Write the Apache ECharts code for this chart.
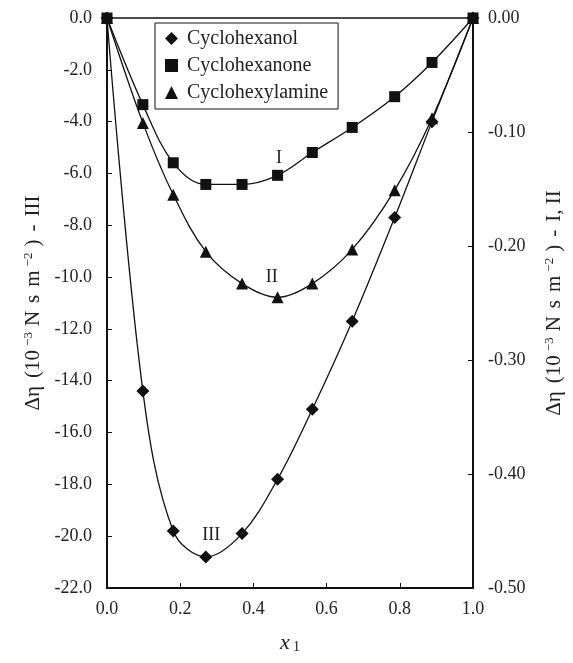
<!DOCTYPE html>
<html>
<head>
<meta charset="utf-8">
<script src="https://cdn.jsdelivr.net/npm/echarts@6/dist/echarts.min.js"></script>
<style>
  html, body { margin: 0; padding: 0; background: #fff; }
  #main { width: 573px; height: 663px; }
</style>
</head>
<body>
<div id="main"></div>
<script>
// mole fraction x1 (same for all three systems)
var xValues = [0, 0.098, 0.181, 0.270, 0.369, 0.466, 0.561, 0.670, 0.786, 0.888, 1.0];
// I - cyclohexanone (right axis)
var ketoneI = [0, -0.076, -0.127, -0.146, -0.146, -0.138, -0.118, -0.096, -0.069, -0.039, 0];
// II - cyclohexylamine (right axis)
var amineII = [0, -0.092, -0.155, -0.205, -0.233, -0.245, -0.233, -0.203, -0.151, -0.088, 0];
// III - cyclohexanol (left axis)
var alcoholIII = [0, -14.4, -19.8, -20.8, -19.9, -17.8, -15.1, -11.7, -7.7, -4.0, 0];

var seriesNames = ['Cyclohexanol', 'Cyclohexanone', 'Cyclohexylamine'];

function pairs(ys) {
  return xValues.map(function (x, i) { return [x, ys[i]]; });
}

var font = '"Liberation Serif", "Times New Roman", serif';
var chart = echarts.init(document.getElementById('main'));

// rotated axis titles, spaced out like the scanned figure
var nameRich = {
  a: { fontFamily: font, fontSize: 21, color: '#222', padding: [0, 4, 0, 4] },
  sup: { fontFamily: font, fontSize: 13, color: '#222', verticalAlign: 'top', padding: [0, 2, 10, 0] }
};
function axisTitle(tail) {
  return '{a|Δη}{a|(10}{sup|−3}{a|N}{a|s}{a|m}{sup|−2}{a|)}{a|-}{a|' + tail + '}';
}

function markText(txt, x, y) {
  return {
    symbol: 'circle',
    symbolSize: 0,
    label: { show: true, formatter: txt, fontFamily: font, fontSize: 18, color: '#222' },
    data: [{ coord: [x, y] }]
  };
}

var option = {
  animation: false,
  backgroundColor: '#fff',
  grid: {
    left: 107,
    right: 99,
    top: 18,
    bottom: 75,
    show: true,
    borderColor: '#111',
    borderWidth: 1.5
  },
  legend: {
    left: 155,
    top: 23,
    orient: 'vertical',
    itemWidth: 13,
    itemHeight: 13,
    itemGap: 6,
    padding: [5, 10, 6, 10],
    borderColor: '#111',
    borderWidth: 1,
    textStyle: { fontFamily: font, fontSize: 20, lineHeight: 21, color: '#222', padding: [0, 0, 0, 4] },
    data: [
      { name: seriesNames[0], icon: 'diamond' },
      { name: seriesNames[1], icon: 'rect' },
      { name: seriesNames[2], icon: 'triangle' }
    ]
  },
  xAxis: {
    type: 'value',
    min: 0,
    max: 1,
    interval: 0.2,
    name: '{i|x}{s|1}',
    nameLocation: 'middle',
    nameGap: 44,
    nameTextStyle: {
      rich: {
        i: { fontFamily: font, fontSize: 22, fontStyle: 'italic', color: '#222' },
        s: { fontFamily: font, fontSize: 14, color: '#222', verticalAlign: 'bottom', padding: [8, 0, 0, 3] }
      }
    },
    axisLine: { onZero: false, lineStyle: { color: '#111', width: 2 } },
    axisTick: { inside: true, length: 5, lineStyle: { color: '#111' } },
    axisLabel: {
      margin: 12,
      fontFamily: font, fontSize: 18, color: '#222',
      formatter: function (v) { return v.toFixed(1); }
    },
    splitLine: { show: false }
  },
  yAxis: [{
    type: 'value',
    position: 'left',
    min: -22,
    max: 0,
    interval: 2,
    name: axisTitle('III'),
    nameLocation: 'middle',
    nameRotate: 90,
    nameGap: 62,
    nameTextStyle: { rich: nameRich },
    axisLine: { show: true, onZero: false, lineStyle: { color: '#111', width: 2 } },
    axisTick: { show: true, inside: true, length: 5, lineStyle: { color: '#111' } },
    axisLabel: {
      margin: 15,
      fontFamily: font, fontSize: 18, color: '#222',
      formatter: function (v) { return v.toFixed(1); }
    },
    splitLine: { show: false }
  }, {
    type: 'value',
    position: 'right',
    min: -0.5,
    max: 0,
    interval: 0.1,
    name: axisTitle('I, II'),
    nameLocation: 'middle',
    nameRotate: 90,
    nameGap: 70,
    nameTextStyle: { rich: nameRich },
    axisLine: { show: true, onZero: false, lineStyle: { color: '#111', width: 2 } },
    axisTick: { show: true, inside: true, length: 5, lineStyle: { color: '#111' } },
    axisLabel: {
      margin: 15,
      fontFamily: font, fontSize: 18, color: '#222',
      formatter: function (v) { return v.toFixed(2); }
    },
    splitLine: { show: false }
  }],
  series: [
    {
      name: seriesNames[0],
      type: 'line',
      yAxisIndex: 0,
      smooth: 0.35,
      symbol: 'diamond',
      symbolSize: 13,
      itemStyle: { color: '#111' },
      lineStyle: { color: '#111', width: 1.3 },
      data: pairs(alcoholIII),
      markPoint: markText('III', 0.285, -19.98)
    },
    {
      name: seriesNames[1],
      type: 'line',
      yAxisIndex: 1,
      smooth: 0.35,
      symbol: 'rect',
      symbolSize: 11,
      itemStyle: { color: '#111' },
      lineStyle: { color: '#111', width: 1.3 },
      data: pairs(ketoneI),
      markPoint: markText('I', 0.47, -0.123)
    },
    {
      name: seriesNames[2],
      type: 'line',
      yAxisIndex: 1,
      smooth: 0.35,
      symbol: 'triangle',
      symbolSize: 12,
      itemStyle: { color: '#111' },
      lineStyle: { color: '#111', width: 1.3 },
      data: pairs(amineII),
      markPoint: markText('II', 0.45, -0.227)
    }
  ]
};

chart.setOption(option);
</script>
</body>
</html>
